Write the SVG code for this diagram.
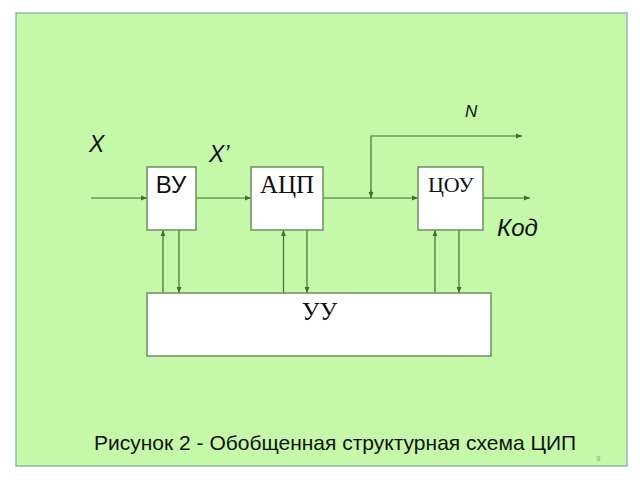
<svg xmlns="http://www.w3.org/2000/svg" width="640" height="480" viewBox="0 0 640 480">
<defs>
<style>
.box{fill:#ffffff;stroke:#6e8f62;stroke-width:1.5}
.ln{fill:none;stroke:#3f6f33;stroke-width:1.2}
.sans{font-family:"Liberation Sans",Arial,sans-serif;fill:#111}
.serif{font-family:"Liberation Serif","Times New Roman",serif;fill:#111}
.it{font-style:italic}
</style>
<marker id="ar" viewBox="0 0 10 10" refX="10" refY="5" markerWidth="6" markerHeight="6" orient="auto" markerUnits="userSpaceOnUse">
<path d="M0,1 L10,5 L0,9 z" fill="#3f6f33"/>
</marker>
</defs>
<rect x="0" y="0" width="640" height="480" fill="#ffffff"/>
<rect x="16" y="13" width="611" height="453" fill="#c5f8a9" stroke="#8db8ad" stroke-width="1.5"/>

<g id="connectors">
<line class="ln" x1="91" y1="198" x2="147" y2="198" marker-end="url(#ar)"/>
<line class="ln" x1="196" y1="198" x2="251" y2="198" marker-end="url(#ar)"/>
<line class="ln" x1="323" y1="198" x2="418" y2="198" marker-end="url(#ar)"/>
<line class="ln" x1="483" y1="198" x2="530" y2="198" marker-end="url(#ar)"/>
<polyline class="ln" points="371,198 371,136 522,136" marker-end="url(#ar)"/>
<line class="ln" x1="371" y1="190" x2="371" y2="198" marker-end="url(#ar)"/>
<line class="ln" x1="163" y1="293" x2="163" y2="230" marker-end="url(#ar)"/>
<line class="ln" x1="179" y1="230" x2="179" y2="293" marker-end="url(#ar)"/>
<line class="ln" x1="283.5" y1="293" x2="283.5" y2="230" marker-end="url(#ar)"/>
<line class="ln" x1="307" y1="230" x2="307" y2="293" marker-end="url(#ar)"/>
<line class="ln" x1="435" y1="293" x2="435" y2="230" marker-end="url(#ar)"/>
<line class="ln" x1="459" y1="230" x2="459" y2="293" marker-end="url(#ar)"/>
</g>

<g id="node-vu">
<rect class="box" x="147" y="167" width="49" height="63"/>
<text class="sans" x="171" y="193" font-size="24" text-anchor="middle">ВУ</text>
</g>
<g id="node-acp">
<rect class="box" x="251" y="167" width="72" height="63"/>
<text class="serif" x="287" y="193" font-size="25" text-anchor="middle">АЦП</text>
</g>
<g id="node-cou">
<rect class="box" x="418" y="167" width="65" height="63"/>
<text class="serif" x="451" y="192" font-size="22" text-anchor="middle">ЦОУ</text>
</g>
<g id="node-uu">
<rect class="box" x="147" y="293" width="344" height="63"/>
<text class="serif" x="319.5" y="320" font-size="25" text-anchor="middle">УУ</text>
</g>

<g id="labels">
<text class="sans it" x="89" y="152" font-size="23">X</text>
<text class="sans it" x="209" y="162" font-size="23">X’</text>
<text class="sans it" x="465" y="117" font-size="17">N</text>
<text class="sans it" x="497" y="236" font-size="24">Код</text>
<text class="sans" x="94" y="450" font-size="21">Рисунок 2 - Обобщенная структурная схема ЦИП</text>
<text class="sans" x="596" y="461" font-size="8" style="fill:#8aa888">9</text>
</g>
</svg>
